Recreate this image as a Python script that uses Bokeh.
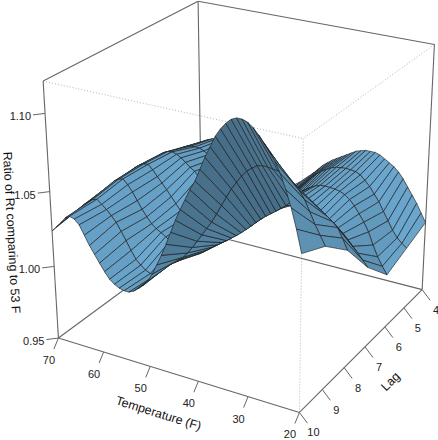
import numpy as np
from bokeh.plotting import figure
from bokeh.embed import file_html
from bokeh.resources import INLINE
from bokeh.core.properties import value

temperature = list(range(20, 71))
lags = [4, 5, 6, 7, 8, 9, 10]
lag4 = [.999,1.005,1.011,1.016,1.021,1.026,1.030,1.033,1.035,1.037,1.039,1.040,1.040,1.040,1.039,1.038,1.036,1.034,1.032,1.030,1.028,1.0255,1.023,1.0195,1.016,1.013,1.010,1.007,1.0045,1.0025,1.001,1.0003,1.000,1.001,1.002,1.004,1.006,1.0085,1.011,1.0135,1.016,1.018,1.020,1.022,1.0235,1.0245,1.0245,1.0238,1.0225,1.0205,1.018]
lag5 = [.993,.9955,.9985,1.003,1.0088,1.0145,1.0205,1.025,1.0295,1.033,1.036,1.0375,1.038,1.0382,1.038,1.0375,1.0364,1.0345,1.0325,1.03,1.0268,1.0233,1.0197,1.0163,1.013,1.0095,1.006,1.003,1.0,.998,.997,.9972,.998,.9993,1.001,1.0033,1.006,1.009,1.012,1.015,1.018,1.0205,1.023,1.0255,1.0275,1.0287,1.029,1.0288,1.028,1.0263,1.024]
lag6 = [.987,.992,.9977,1.005,1.0132,1.019,1.0239,1.0285,1.032,1.0345,1.036,1.0367,1.037,1.0372,1.037,1.0358,1.034,1.0318,1.029,1.0265,1.024,1.021,1.018,1.015,1.012,1.009,1.006,1.003,1.0,.9978,.996,.9965,.998,1.0002,1.003,1.006,1.009,1.0125,1.016,1.0195,1.0225,1.026,1.028,1.0308,1.0332,1.035,1.036,1.0355,1.034,1.0315,1.028]
lag7 = [1.005,1.009,1.0128,1.0165,1.02,1.0235,1.0264,1.0285,1.03,1.0318,1.0333,1.035,1.0365,1.0378,1.0387,1.039,1.0375,1.035,1.0316,1.0285,1.0255,1.0225,1.0195,1.0163,1.013,1.0098,1.0066,1.004,1.0014,.9985,.9962,.9943,.993,.9937,.995,.9973,1.0,1.0033,1.007,1.011,1.0152,1.0193,1.0234,1.0273,1.031,1.035,1.038,1.0375,1.036,1.0335,1.03]
lag8 = [1.029,1.036,1.042,1.045,1.0476,1.05,1.0523,1.054,1.0555,1.0555,1.0547,1.0515,1.048,1.0455,1.0428,1.0403,1.0378,1.035,1.032,1.0288,1.0257,1.0228,1.02,1.0175,1.0149,1.0127,1.0104,1.008,1.0054,1.0028,1.0005,.9995,.999,.9985,.999,1.0015,1.0045,1.0065,1.0085,1.0105,1.013,1.017,1.0213,1.0265,1.0316,1.0358,1.039,1.038,1.036,1.0325,1.028]
lag9 = [1.044,1.05,1.056,1.063,1.0697,1.0745,1.078,1.0805,1.0824,1.0835,1.084,1.0845,1.0845,1.0838,1.0815,1.079,1.075,1.0705,1.0655,1.0595,1.0534,1.047,1.041,1.036,1.031,1.026,1.021,1.0165,1.0127,1.01,1.0075,1.0048,1.002,.998,.995,.9955,.997,.9995,1.0026,1.0078,1.0136,1.019,1.0243,1.028,1.0313,1.034,1.0366,1.0355,1.033,1.0305,1.027]
lag10 = [1.052,1.066,1.078,1.088,1.0966,1.103,1.108,1.1125,1.1165,1.12,1.1225,1.1235,1.1235,1.122,1.119,1.115,1.11,1.103,1.096,1.088,1.08,1.074,1.067,1.06,1.0525,1.044,1.0355,1.0275,1.0204,1.0135,1.008,1.004,1.0011,.9985,.997,.997,.9978,.9995,1.002,1.0062,1.011,1.016,1.021,1.027,1.033,1.036,1.037,1.035,1.031,1.0275,1.024]
temp_ticks = [70, 60, 50, 40, 30, 20]
lag_ticks = [10, 9, 8, 7, 6, 5, 4]
z_ticks = [0.95, 1.00, 1.05, 1.10]
z_low, z_high = 0.95, 1.12

# camera calibrated on the eight corners of the box (pixel = page position)
calib = [((70,10,z_low),(57.3,337.3)),((20,10,z_low),(299,412)),((20,4,z_low),(421.3,289.3)),((70,4,z_low),(202,232)),
         ((70,10,z_high),(43,81)),((20,10,z_high),(303,138)),((20,4,z_high),(434,44)),((70,4,z_high),(197,0.5))]
def norm(t, l, z):
    return (t-20)/50, (l-4)/6, (z-z_low)/(z_high-z_low)
A, b = [], []
for (t,l,z),(px,py) in calib:
    X,Y,Z_ = norm(t,l,z)
    A.append([X,Y,Z_,1,0,0,0,0,-px*X,-px*Y,-px*Z_]); b.append(px)
    A.append([0,0,0,0,X,Y,Z_,1,-py*X,-py*Y,-py*Z_]); b.append(py)
cam = np.append(np.linalg.lstsq(np.array(A),np.array(b),rcond=None)[0],1).reshape(3,4)
def proj(t,l,z):
    v = cam @ np.array([*norm(t,l,z),1.0])
    return float(v[0]/v[2]), float(v[1]/v[2])

p = figure(width=438, height=440, x_range=(0,438), y_range=(440,0), output_backend="svg",
           toolbar_location=None, min_border=0, outline_line_color=None)
p.axis.visible = False
p.grid.visible = False
p.background_fill_color = "white"

def edge(a, b, **kw):
    pa, pb = proj(*a), proj(*b)
    p.line([pa[0],pb[0]],[pa[1],pb[1]], **kw)

solid = dict(line_color="#666666", line_width=1.1)
dots = dict(line_color="#aaaaaa", line_width=0.9, line_dash="1 2")
for a,b_ in [((70,10,z_high),(20,10,z_high)),((20,4,z_high),(20,10,z_high)),((20,10,z_low),(20,10,z_high))]:
    edge(a,b_,**dots)
for a,b_ in [((70,10,z_low),(20,10,z_low)),((20,10,z_low),(20,4,z_low)),((20,4,z_low),(70,4,z_low)),((70,4,z_low),(70,10,z_low)),
             ((70,10,z_low),(70,10,z_high)),((20,4,z_low),(20,4,z_high)),((70,4,z_low),(70,4,z_high)),
             ((70,10,z_high),(70,4,z_high)),((70,4,z_high),(20,4,z_high))]:
    edge(a,b_,**solid)

# surface, painted from the far corner to the near one
Z = np.array([lag4,lag5,lag6,lag7,lag8,lag9,lag10])
light = np.array([-0.25,0.72,0.65]); light = light/np.linalg.norm(light)
base = np.array([0x72,0xb2,0xdc])
xs, ys, cols = [], [], []
for j in range(len(lags)-1):
    for i in range(len(temperature)-2,-1,-1):
        corners = [(temperature[i],lags[j],Z[j,i]),(temperature[i+1],lags[j],Z[j,i+1]),
                   (temperature[i+1],lags[j+1],Z[j+1,i+1]),(temperature[i],lags[j+1],Z[j+1,i])]
        pts = [proj(*c) for c in corners]
        xs.append([q[0] for q in pts]); ys.append([q[1] for q in pts])
        n3 = [np.array(norm(*c))*np.array([1,1,0.75]) for c in corners]
        nrm = np.cross(n3[2]-n3[0], n3[3]-n3[1]); nrm = nrm/np.linalg.norm(nrm)
        if nrm[2] < 0: nrm = -nrm
        s = ((1+float(nrm @ light))/2)**0.55
        c = (base*s).astype(int)
        cols.append("#%02x%02x%02x" % tuple(c))
p.patches(xs, ys, fill_color=cols, line_color="#1e1e1e", line_width=0.65, line_join="round")

tick = dict(line_color="#666666", line_width=1)
font = "Liberation Sans"
lab = dict(text_font=value(font), text_font_size="11px", text_color="#222222", text_align="center", text_baseline="middle")
for t in temp_ticks:
    x,y = proj(t,10,z_low)
    p.line([x,x-4.5],[y,y+11],**tick)
    p.text([x-9.5],[y+22],text=[str(t)],**lab)
for l in lag_ticks:
    x,y = proj(20,l,z_low)
    p.line([x,x+8],[y,y+10.7],**tick)
    p.text([x+14],[y+20],text=[str(l)],**lab)
for z in z_ticks:
    x,y = proj(70,10,z)
    p.line([x,x-12],[y,y+1.5],**tick)
    p.text([x-14],[y+3],text=["%.2f"%z],**{**lab,"text_align":"right"})

title = dict(text_font=value(font), text_font_size="12.4px", text_color="#111111", text_align="center", text_baseline="middle")
p.text([158],[413],text=["Temperature (F)"],angle=[-17.3],angle_units="deg",**title)
p.text([390],[381],text=["Lag"],angle=[45],angle_units="deg",**title)
p.text([11],[232],text=["Ratio of Rt comparing to 53 F"],angle=[-86.9],angle_units="deg",**title)

open("out.html","w").write(file_html(p, INLINE))
